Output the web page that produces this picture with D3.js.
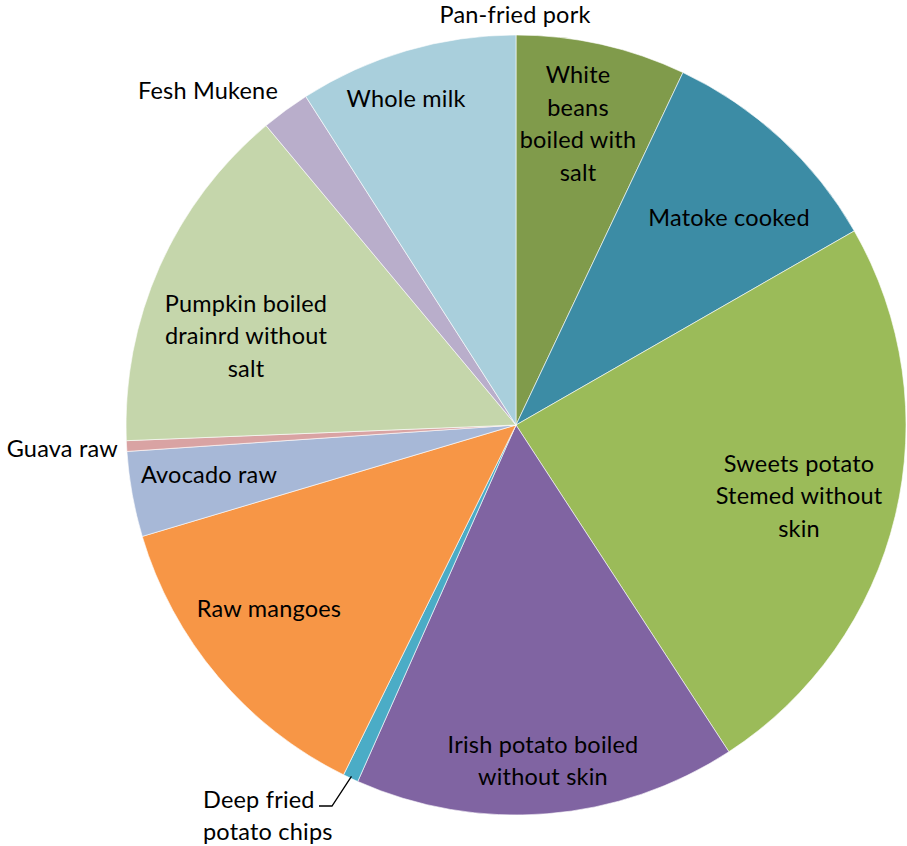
<!DOCTYPE html>
<html>
<head>
<meta charset="utf-8">
<script src="https://cdn.jsdelivr.net/npm/d3@7"></script>
<style>
  html, body { margin: 0; padding: 0; background: #fff; }
  svg { display: block; }
  text { font-family: Lato, "Open Sans", sans-serif; font-size: 23.5px; letter-spacing: 0.2px; fill: #000; }
</style>
</head>
<body>
<svg id="chart" width="907" height="846"></svg>
<script>
// Food items, clockwise from 12 o'clock
const categories = [
  "Pan-fried pork",
  "White beans boiled with salt",
  "Matoke cooked",
  "Sweets potato Stemed without skin",
  "Irish potato boiled without skin",
  "Deep fried potato chips",
  "Raw mangoes",
  "Avocado raw",
  "Guava raw",
  "Pumpkin boiled drainrd without salt",
  "Fesh Mukene",
  "Whole milk"
];
// Share of each item (percent)
const values = [0, 7.04, 9.67, 24.10, 15.84, 0.64, 13.10, 3.53, 0.44, 14.57, 2.01, 9.06];
const colors = ["#4f81bd", "#809b4b", "#3c8ca5", "#9bbb59", "#8064a2", "#4bacc6",
                "#f79646", "#a7b8d7", "#d9a3a3", "#c5d6ab", "#b9aecb", "#a9cfdc"];
// Text lines drawn for each slice
const labelLines = [
  ["Pan-fried pork"],
  ["White", "beans", "boiled with", "salt"],
  ["Matoke cooked"],
  ["Sweets potato", "Stemed without", "skin"],
  ["Irish potato boiled", "without skin"],
  ["Deep fried", "potato chips"],
  ["Raw mangoes"],
  ["Avocado raw"],
  ["Guava raw"],
  ["Pumpkin boiled", "drainrd without", "salt"],
  ["Fesh Mukene"],
  ["Whole milk"]
];
// Label anchor points and text anchoring
const labelPos = [
  {x: 515, y: 15, a: "middle"},
  {x: 578, y: 124, a: "middle"},
  {x: 729, y: 218, a: "middle"},
  {x: 799, y: 496, a: "middle"},
  {x: 543, y: 761, a: "middle"},
  {x: 203, y: 816, a: "start"},
  {x: 269, y: 609, a: "middle"},
  {x: 209, y: 475, a: "middle"},
  {x: 118, y: 449, a: "end"},
  {x: 246, y: 336, a: "middle"},
  {x: 208, y: 91, a: "middle"},
  {x: 406, y: 99, a: "middle"}
];

const cx = 516, cy = 425, R = 390;
const lineH = 32.5;

const svg = d3.select("#chart");
const g = svg.append("g").attr("transform", `translate(${cx},${cy})`);

const pie = d3.pie().sort(null).value(d => d)(values);
const arc = d3.arc().innerRadius(0).outerRadius(R);

g.selectAll("path.slice")
  .data(pie)
  .join("path")
  .attr("class", "slice")
  .attr("d", arc)
  .attr("fill", (d, i) => colors[i])
  .attr("stroke", "#ffffff")
  .attr("stroke-width", 0.6)
  .attr("stroke-opacity", d => d.value > 0 ? 1 : 0);

// Leader line for the thin chips slice
const chips = pie[5];
const mid = (chips.startAngle + chips.endAngle) / 2;
const ex = cx + Math.sin(mid) * (R - 2), ey = cy - Math.cos(mid) * (R - 2);
svg.append("path")
  .attr("d", `M${319},${806} L${332},${806} L${ex},${ey}`)
  .attr("fill", "none")
  .attr("stroke", "#000")
  .attr("stroke-width", 1.3);

const labels = svg.selectAll("text.lbl")
  .data(labelLines)
  .join("text")
  .attr("class", "lbl")
  .attr("text-anchor", (d, i) => labelPos[i].a)
  .attr("transform", (d, i) => `translate(${labelPos[i].x},${labelPos[i].y})`);

labels.selectAll("tspan")
  .data(d => d.map((t, k) => ({t, k, n: d.length})))
  .join("tspan")
  .attr("x", 0)
  .attr("y", d => (d.k - (d.n - 1) / 2) * lineH)
  .attr("dy", "0.35em")
  .text(d => d.t);
</script>
</body>
</html>
